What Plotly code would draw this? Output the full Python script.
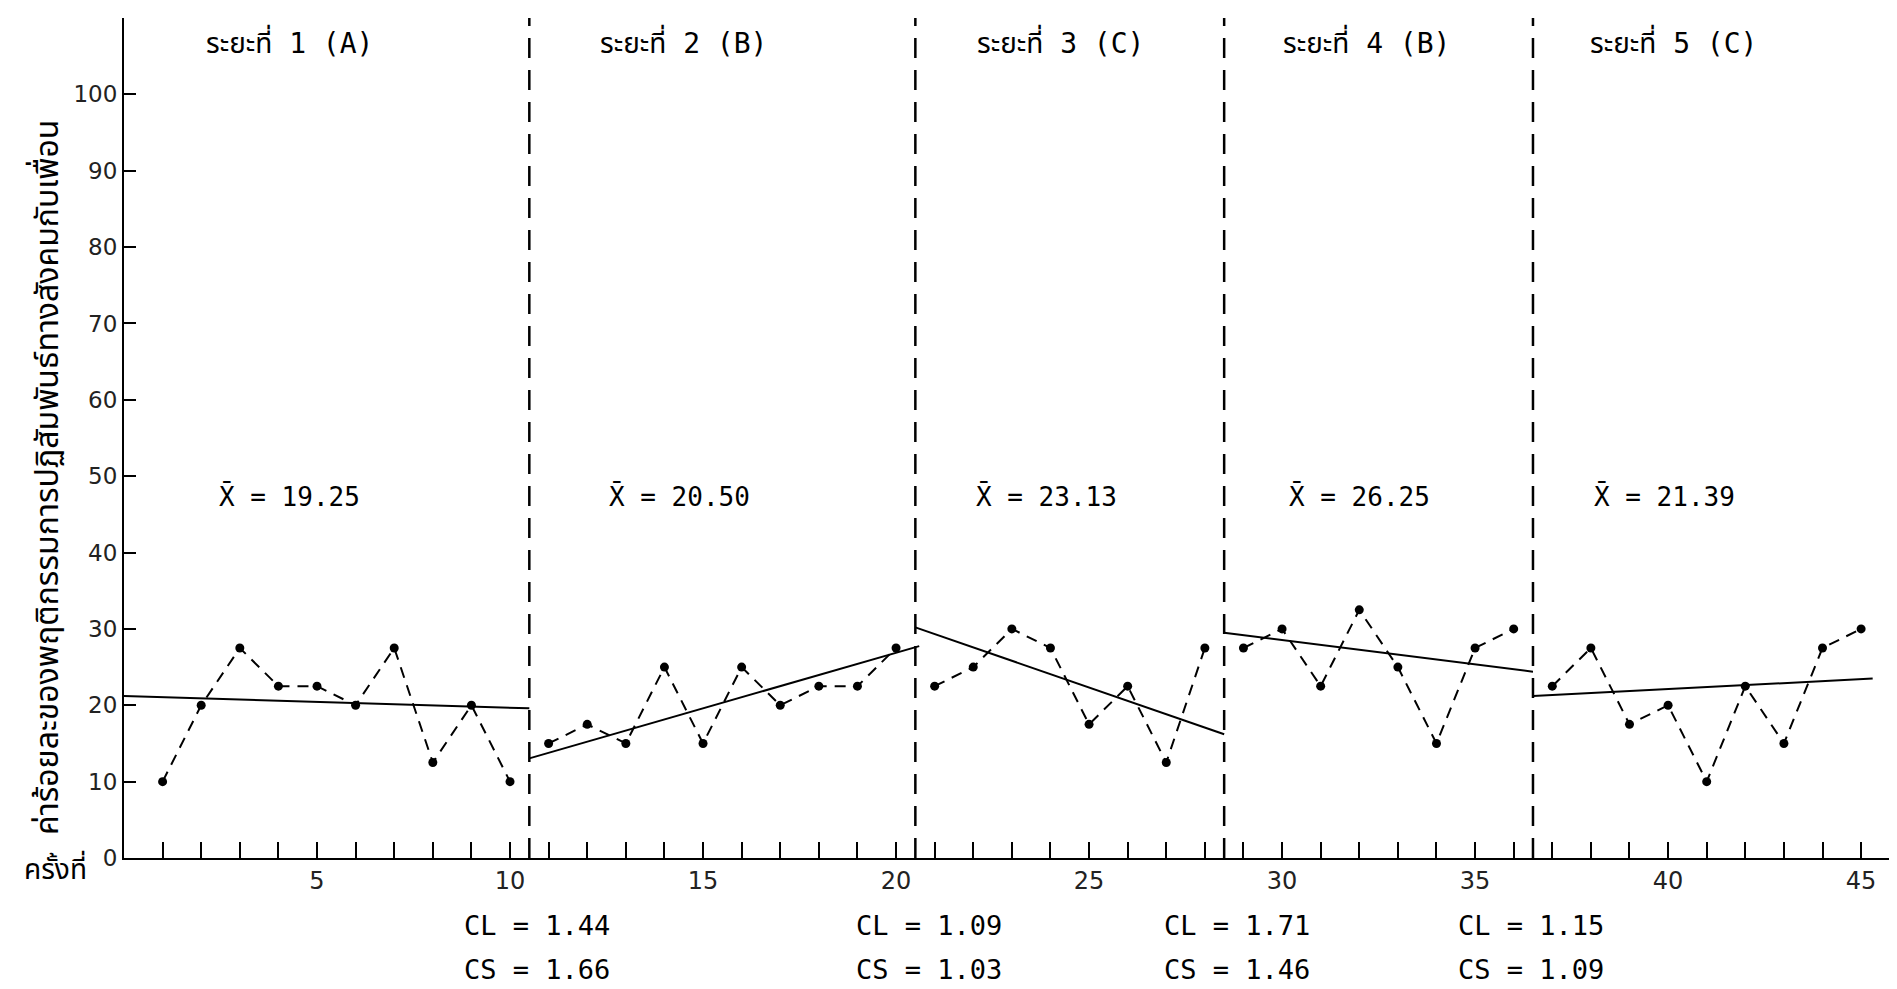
import plotly.graph_objects as go

# ---- data ----
sessions = list(range(1, 46))
phase_ranges = [(1, 10), (11, 20), (21, 28), (29, 36), (37, 45)]
values = [
    10, 20, 27.5, 22.5, 22.5, 20, 27.5, 12.5, 20, 10,          # phase 1 (A)
    15, 17.5, 15, 25, 15, 25, 20, 22.5, 22.5, 27.5,            # phase 2 (B)
    22.5, 25, 30, 27.5, 17.5, 22.5, 12.5, 27.5,                # phase 3 (C)
    27.5, 30, 22.5, 32.5, 25, 15, 27.5, 30,                    # phase 4 (B)
    22.5, 27.5, 17.5, 20, 10, 22.5, 15, 27.5, 30,              # phase 5 (C)
]
boundaries = [10.5, 20.5, 28.5, 36.5]
trend_x0 = [0, 10.5, 20.5, 28.5, 36.5]
trend_x1 = [10.5, 20.6, 28.5, 36.5, 45.3]
trend_y0 = [21.2, 13.05, 30.2, 29.5, 21.2]
trend_y1 = [19.6, 27.75, 16.2, 24.4, 23.5]
phase_titles = ["ระยะที่ 1 (A)", "ระยะที่ 2 (B)", "ระยะที่ 3 (C)", "ระยะที่ 4 (B)", "ระยะที่ 5 (C)"]
phase_title_x = [4.3, 14.5, 24.25, 32.2, 40.15]
means = ["19.25", "20.50", "23.13", "26.25", "21.39"]
mean_x = [4.3, 14.4, 23.9, 32.0, 39.9]
cl_values = ["1.44", "1.09", "1.71", "1.15"]
cs_values = ["1.66", "1.03", "1.46", "1.09"]
clcs_x = [8.75, 18.9, 26.9, 34.5]
y_ticks = [0, 10, 20, 30, 40, 50, 60, 70, 80, 90, 100]
x_label_ticks = [5, 10, 15, 20, 25, 30, 35, 40, 45]
y_title = "ค่าร้อยละของพฤติกรรมการปฏิสัมพันธ์ทางสังคมกับเพื่อน"
x_corner_label = "ครั้งที่"

MONO = "DejaVu Sans Mono, Liberation Mono, Noto Sans Thai, monospace"
SANS = "DejaVu Sans, Noto Sans Thai, Noto Sans, sans-serif"
THAI = "Noto Sans Thai, Noto Sans Thai Looped, Noto Sans, sans-serif"

fig = go.Figure()

# data series, one per phase
for (a, b) in phase_ranges:
    xs = sessions[a - 1:b]
    ys = values[a - 1:b]
    fig.add_trace(go.Scatter(
        x=xs, y=ys, mode="lines+markers",
        line=dict(color="black", width=2, dash="11px,8px"),
        marker=dict(color="black", size=9),
        showlegend=False, hoverinfo="x+y"))

# trend lines
for i in range(len(trend_x0)):
    fig.add_trace(go.Scatter(
        x=[trend_x0[i], trend_x1[i]], y=[trend_y0[i], trend_y1[i]],
        mode="lines", line=dict(color="black", width=2),
        showlegend=False, hoverinfo="skip"))

# phase boundaries
for bx in boundaries:
    fig.add_shape(type="line", x0=bx, x1=bx, y0=0, y1=1, xref="x", yref="paper",
                  line=dict(color="black", width=2.5, dash="20px,12px"))

# phase titles
for t, tx in zip(phase_titles, phase_title_x):
    fig.add_annotation(x=tx, y=106.8, xref="x", yref="y", text=t, showarrow=False,
                       xanchor="center",
                       font=dict(family=MONO, size=28, color="black"))

# means
for m, mx in zip(means, mean_x):
    fig.add_annotation(x=mx, y=47.4, xref="x", yref="y", text="X̄ = " + m,
                       showarrow=False, xanchor="center",
                       font=dict(family=MONO, size=26, color="black"))

# CL / CS
for cl, cs, cx in zip(cl_values, cs_values, clcs_x):
    fig.add_annotation(x=cx, y=-0.080, xref="x", yref="paper", text="CL = " + cl,
                       xanchor="left", yanchor="middle", showarrow=False,
                       font=dict(family=MONO, size=27, color="black"))
    fig.add_annotation(x=cx, y=-0.133, xref="x", yref="paper", text="CS = " + cs,
                       xanchor="left", yanchor="middle", showarrow=False,
                       font=dict(family=MONO, size=27, color="black"))

# axis titles
fig.add_annotation(x=48, y=478, xref="paper", yref="paper", text=y_title,
                   textangle=-90, showarrow=False, xanchor="center", yanchor="middle",
                   font=dict(family=THAI, size=32, color="black"))
fig.add_annotation(x=55, y=870, xref="paper", yref="paper", text=x_corner_label,
                   showarrow=False, xanchor="center", yanchor="middle",
                   font=dict(family=THAI, size=28, color="black"))

# convert the two pixel positions above into paper coordinates
PL, PT, PB = 116, 10, 131
W, H = 1889, 981
pw, ph = W - PL, H - PT - PB
for ann in fig.layout.annotations[-2:]:
    ann.x = (ann.x - 8 - PL) / pw
    ann.y = (H - PB - (ann.y - 8)) / ph

fig.update_xaxes(range=[0, 45.93], showline=True, linecolor="black", linewidth=2,
                 tickvals=sessions,
                 ticktext=[str(s) if s in x_label_ticks else "" for s in sessions],
                 ticks="inside", ticklen=16, tickwidth=2, tickcolor="black",
                 showgrid=False, zeroline=False,
                 tickfont=dict(family=SANS, size=24, color="#222"))
fig.update_yaxes(range=[0, 110], showline=True, linecolor="black", linewidth=2,
                 tickvals=y_ticks, ticks="inside", ticklen=12, tickwidth=2,
                 tickcolor="black", showgrid=False, zeroline=False,
                 tickfont=dict(family=SANS, size=23, color="#222"))

fig.update_layout(width=W, height=H,
                  margin=dict(l=PL, r=0, t=PT, b=PB, autoexpand=False),
                  plot_bgcolor="white", paper_bgcolor="white",
                  showlegend=False)

fig.write_html("out.html")
